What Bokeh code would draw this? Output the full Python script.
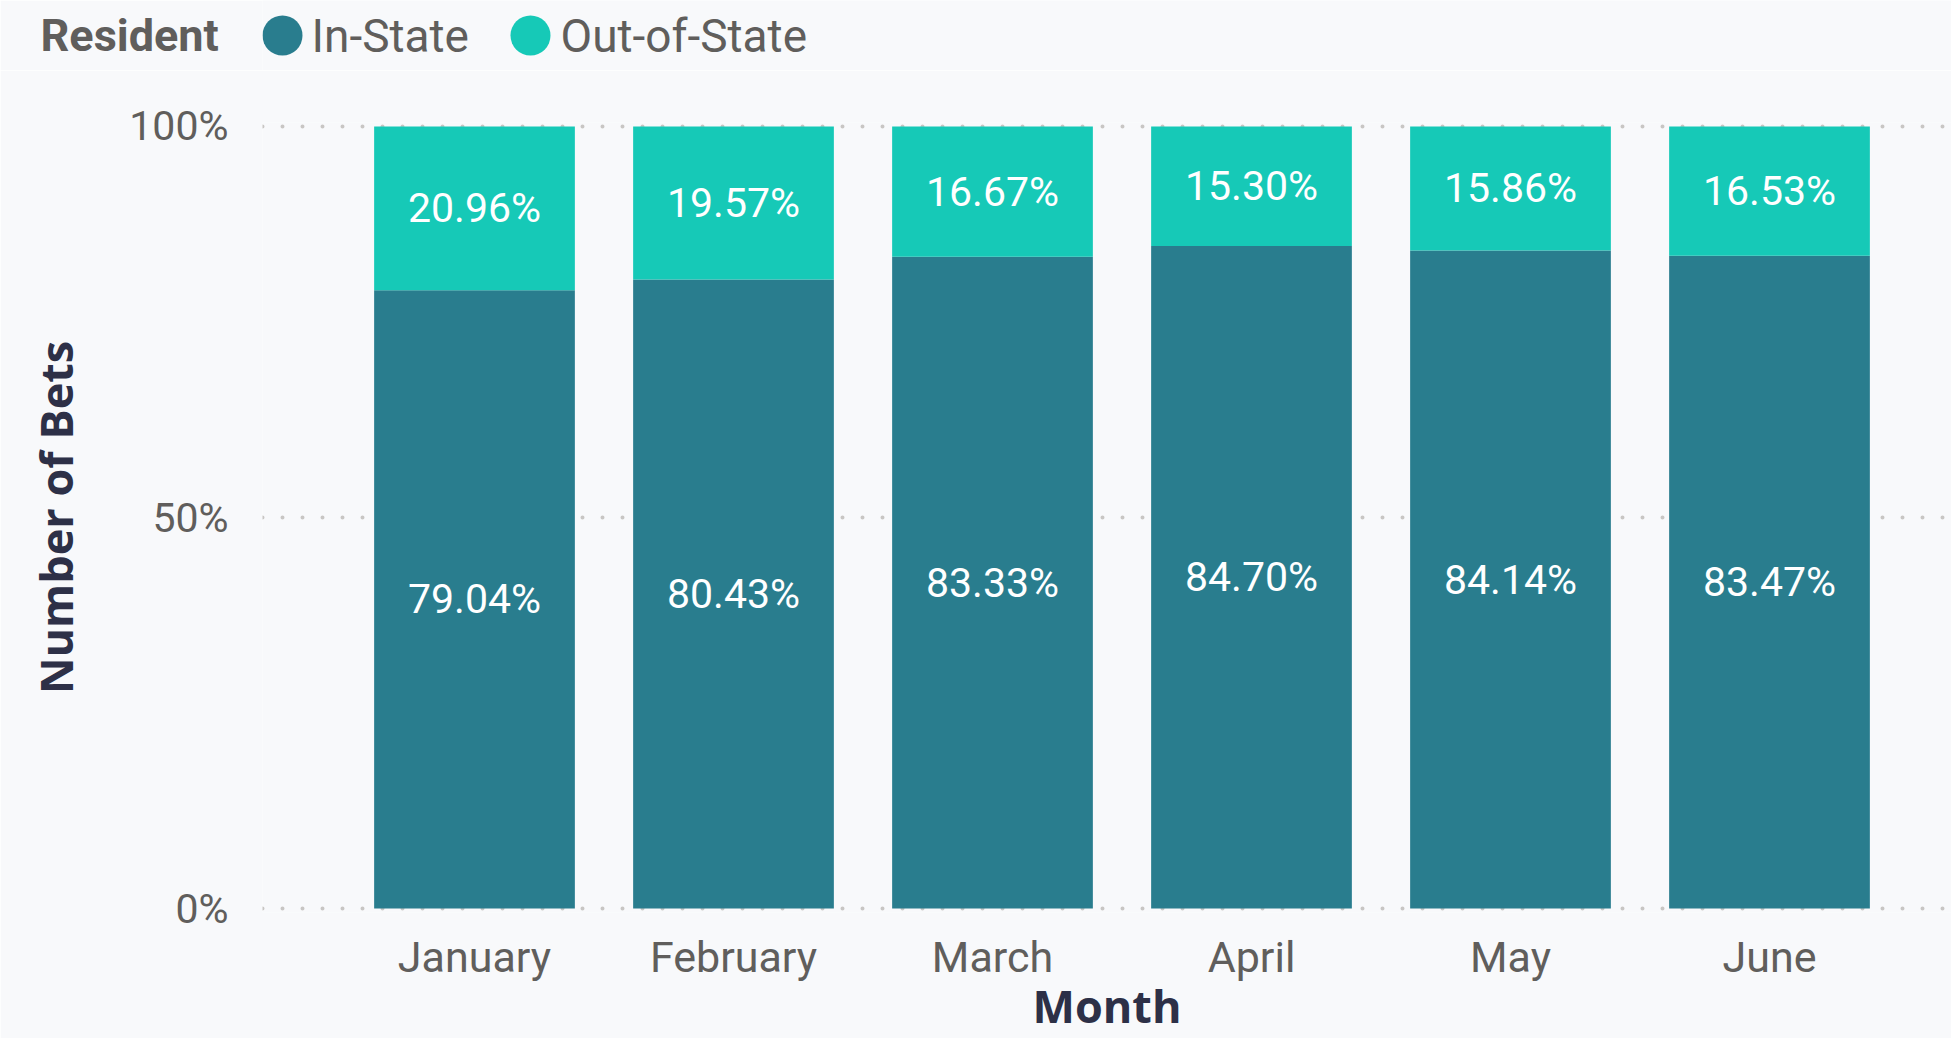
from bokeh.plotting import figure
from bokeh.models import ColumnDataSource, Range1d, FixedTicker, Label
from bokeh.layouts import column
from bokeh.core.properties import value
from bokeh.embed import file_html
from bokeh.resources import INLINE

months = ["January", "February", "March", "April", "May", "June"]
in_state = [79.04, 80.43, 83.33, 84.70, 84.14, 83.47]
out_state = [20.96, 19.57, 16.67, 15.30, 15.86, 16.53]
series_names = ["In-State", "Out-of-State"]
legend_title = "Resident"
y_ticks = [0, 0.5, 1.0]
y_tick_labels = ["0%", "50%", "100%"]

C_IN = "#297d8e"
C_OUT = "#16c9b7"
BG = "#f8f9fb"
TICK = "#605e5c"
TITLE = "#2d3047"

W = 1951
LEG_H = 70
MAIN_H = 1038 - LEG_H
FRAME_L = 262
CAT_PX = 259
X0 = -0.5 - (344.5 - FRAME_L) / CAT_PX
X1 = X0 + (W - FRAME_L) / CAT_PX

# ---------------- legend strip (its frame is aligned with the chart's frame) ----------------
leg = figure(width=W, height=LEG_H, output_backend="svg", toolbar_location=None,
             x_range=Range1d(FRAME_L, W), y_range=Range1d(0, LEG_H),
             x_axis_type=None, y_axis_type=None,
             background_fill_color=BG, border_fill_color=BG, outline_line_color=None,
             min_border_left=FRAME_L, min_border_right=0, min_border_top=0,
             min_border_bottom=0)
leg.xgrid.visible = False
leg.ygrid.visible = False
# title sits left of the frame: put it in the side panel so that it is not clipped
leg.add_layout(Label(x=40, y=LEG_H / 2, text=legend_title, text_color=TICK,
                     text_font="Roboto", text_font_style="bold", text_font_size="45px",
                     text_align="left", text_baseline="middle"), "left")
leg_src = ColumnDataSource(dict(cx=[282, 530], tx=[311, 560], y=[LEG_H / 2] * 2,
                                label=series_names, color=[C_IN, C_OUT]))
leg.scatter(x="cx", y="y", marker="circle", size=40, fill_color="color",
            line_color=None, source=leg_src)
leg.text(x="tx", y="y", text="label", source=leg_src, text_color=TICK,
         text_font=value("Roboto"), text_font_size="46px",
         text_align="left", text_baseline="middle")

# ---------------- main chart ----------------
xs = list(range(len(months)))
in_frac = [v / 100 for v in in_state]
out_frac = [v / 100 for v in out_state]
src = ColumnDataSource(dict(
    x=xs,
    month=months,
    in_top=in_frac,
    out_bottom=in_frac,
    out_top=[a + b for a, b in zip(in_frac, out_frac)],
    in_mid=[a / 2 for a in in_frac],
    out_mid=[a + b / 2 for a, b in zip(in_frac, out_frac)],
    in_lbl=[f"{v:.2f}%" for v in in_state],
    out_lbl=[f"{v:.2f}%" for v in out_state],
))

p = figure(width=W, height=MAIN_H, output_backend="svg", toolbar_location=None,
           x_range=Range1d(X0, X1), y_range=Range1d(-0.005, 1.005),
           background_fill_color=BG, border_fill_color=BG, outline_line_color=None,
           min_border_left=FRAME_L, min_border_right=0, min_border_top=122 - LEG_H,
           min_border_bottom=124)

p.xgrid.grid_line_color = None
p.ygrid.ticker = FixedTicker(ticks=y_ticks)
p.ygrid.grid_line_color = "#c8c6c4"
p.ygrid.grid_line_width = 4
p.ygrid.grid_line_dash = "0 20"
p.ygrid.grid_line_cap = "round"

r_in = p.vbar(x="x", width=0.775, bottom=0, top="in_top", source=src,
              fill_color=C_IN, line_color=None)
r_out = p.vbar(x="x", width=0.775, bottom="out_bottom", top="out_top", source=src,
               fill_color=C_OUT, line_color=None)

for ycol, tcol in (("in_mid", "in_lbl"), ("out_mid", "out_lbl")):
    p.text(x="x", y=ycol, text=tcol, source=src, text_color="white",
           text_font=value("Roboto"), text_font_size="41px",
           text_align="center", text_baseline="middle")

p.xaxis.ticker = FixedTicker(ticks=xs)
p.xaxis.major_label_overrides = {i: m for i, m in enumerate(months)}
p.xaxis.axis_label = "Month"
p.yaxis.ticker = FixedTicker(ticks=y_ticks)
p.yaxis.major_label_overrides = {t: l for t, l in zip(y_ticks, y_tick_labels)}
p.yaxis.axis_label = "Number of Bets"

for ax in (p.xaxis[0], p.yaxis[0]):
    ax.axis_line_color = None
    ax.major_tick_line_color = None
    ax.minor_tick_line_color = None
    ax.major_tick_out = 0
    ax.major_tick_in = 0
    ax.major_label_text_font = "Roboto"
    ax.major_label_text_color = TICK
    ax.axis_label_text_font = "Open Sans"
    ax.axis_label_text_font_style = "bold"
    ax.axis_label_text_color = TITLE
    ax.axis_label_text_font_size = "45px"

p.xaxis.major_label_text_font_size = "43px"
p.xaxis.major_label_standoff = 19
p.xaxis.axis_label_standoff = -10
p.yaxis.major_label_text_font_size = "41px"
p.yaxis.major_label_standoff = 34
p.yaxis.axis_label_standoff = 40

layout = column(leg, p, spacing=0)
open("out.html", "w").write(file_html(layout, INLINE))
